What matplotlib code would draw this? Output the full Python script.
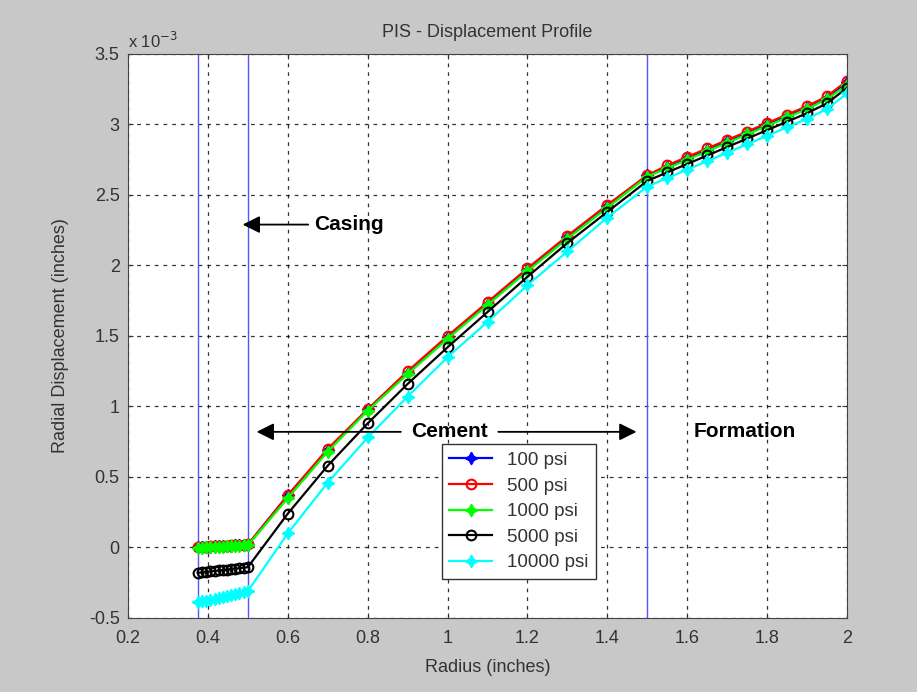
import matplotlib
matplotlib.use('Agg')
import matplotlib.pyplot as plt
import numpy as np

plt.rcParams['font.family'] = ['Liberation Sans', 'DejaVu Sans']

# raio (polegadas): revestimento, cimento e formacao
r_casing = [0.375, 0.385, 0.396, 0.406, 0.417, 0.427, 0.438, 0.448, 0.458, 0.469, 0.479, 0.490, 0.500]
r_cement = [0.6, 0.7, 0.8, 0.9, 1.0, 1.1, 1.2, 1.3, 1.4, 1.5]
r_formation = [1.55, 1.6, 1.65, 1.7, 1.75, 1.8, 1.85, 1.9, 1.95, 2.0]

# deslocamento radial (x 1e-3 polegadas)
d100 = ([0.000, 0.002, 0.004, 0.005, 0.007, 0.008, 0.010, 0.011, 0.013, 0.014, 0.016, 0.017, 0.019]
        + [0.37, 0.69, 0.98, 1.24, 1.49, 1.73, 1.97, 2.20, 2.42, 2.64]
        + [2.70, 2.76, 2.82, 2.88, 2.94, 3.00, 3.06, 3.12, 3.19, 3.30])
d500 = ([0.003, 0.004, 0.006, 0.007, 0.009, 0.010, 0.012, 0.013, 0.015, 0.016, 0.018, 0.019, 0.021]
        + [0.37, 0.70, 0.98, 1.25, 1.50, 1.74, 1.98, 2.21, 2.43, 2.64]
        + [2.71, 2.77, 2.83, 2.89, 2.95, 3.01, 3.07, 3.13, 3.20, 3.31])
d1000 = ([-0.003, -0.001, 0.000, 0.002, 0.003, 0.005, 0.006, 0.008, 0.009, 0.011, 0.012, 0.014, 0.015]
         + [0.35, 0.68, 0.97, 1.23, 1.48, 1.72, 1.96, 2.19, 2.41, 2.63]
         + [2.69, 2.75, 2.81, 2.87, 2.93, 2.99, 3.05, 3.11, 3.18, 3.28])
d5000 = ([-0.18, -0.177, -0.173, -0.170, -0.167, -0.163, -0.160, -0.157, -0.153, -0.150, -0.147, -0.143, -0.140]
         + [0.24, 0.58, 0.88, 1.16, 1.42, 1.67, 1.92, 2.16, 2.38, 2.60]
         + [2.66, 2.72, 2.78, 2.84, 2.90, 2.96, 3.02, 3.08, 3.15, 3.26])
d10000 = ([-0.39, -0.383, -0.377, -0.370, -0.363, -0.357, -0.350, -0.343, -0.337, -0.330, -0.323, -0.317, -0.310]
          + [0.10, 0.46, 0.78, 1.07, 1.35, 1.60, 1.86, 2.10, 2.34, 2.56]
          + [2.62, 2.68, 2.74, 2.80, 2.86, 2.92, 2.98, 3.04, 3.11, 3.22])

r = np.array(r_casing + r_cement + r_formation)

fig = plt.figure(figsize=(9.17, 6.92), dpi=100, facecolor='#c8c8c8')
ax = fig.add_axes([0.1396, 0.107, 0.7841, 0.815])

star = (4, 1, 0)
ax.plot(r, d100, '-', color='blue', marker=star, ms=9, lw=1.6, label='100 psi')
ax.plot(r, d500, '-', color='red', marker='o', ms=7, mfc='none', mew=1.5, lw=1.6, label='500 psi')
ax.plot(r, d1000, '-', color='#00ff00', marker=star, ms=9, lw=1.6, label='1000 psi')
ax.plot(r, d5000, '-', color='black', marker='o', ms=7, mfc='none', mew=1.5, lw=1.6, label='5000 psi')
ax.plot(r, d10000, '-', color='cyan', marker=star, ms=9, lw=1.6, label='10000 psi')

# fronteiras revestimento/cimento/formacao
for xb in [0.375, 0.5, 1.5]:
    ax.axvline(xb, color='#5555ff', lw=1.0, zorder=1)

ax.set_xlim(0.2, 2.0)
ax.set_ylim(-0.5, 3.5)
ax.set_xticks(np.arange(0.2, 2.01, 0.2))
ax.set_xticklabels(['0.2', '0.4', '0.6', '0.8', '1', '1.2', '1.4', '1.6', '1.8', '2'])
ax.set_yticks(np.arange(-0.5, 3.51, 0.5))
ax.set_yticklabels(['-0.5', '0', '0.5', '1', '1.5', '2', '2.5', '3', '3.5'])
ax.grid(True, color='black', linestyle=(0, (3, 4)), lw=0.9, alpha=0.8)
ax.set_axisbelow(True)
ax.tick_params(direction='in', top=True, right=True, labelsize=13, colors='#333333')
ax.tick_params(axis='x', pad=9)
ax.tick_params(axis='y', pad=6)
for s in ax.spines.values():
    s.set_color('#444444')

ax.set_title('PIS - Displacement Profile', fontsize=13, color='#333333', pad=12)
ax.set_xlabel('Radius (inches)', fontsize=13, color='#333333', labelpad=8)
ax.set_ylabel('Radial Displacement (inches)', fontsize=13, color='#333333', labelpad=14)
ax.text(0.0, 1.005, 'x 10$^{-3}$', transform=ax.transAxes, fontsize=12, color='#333333',
        ha='left', va='bottom')

bold = dict(fontsize=15, fontweight='bold')
arrow = dict(arrowstyle='-|>', color='black', lw=1.3, mutation_scale=26)
ax.annotate('Casing', xy=(0.48, 2.29), xytext=(0.665, 2.29), va='center', ha='left',
            arrowprops=arrow, **bold)
ax.text(1.005, 0.82, 'Cement', ha='center', va='center', **bold)
ax.annotate('', xy=(0.515, 0.82), xytext=(0.89, 0.82), arrowprops=arrow)
ax.annotate('', xy=(1.48, 0.82), xytext=(1.12, 0.82), arrowprops=arrow)
ax.text(1.615, 0.82, 'Formation', ha='left', va='center', **bold)

leg = ax.legend(loc='lower left', bbox_to_anchor=(0.423, 0.053), fontsize=13.5, fancybox=False,
                framealpha=1, edgecolor='#333333', borderpad=0.4, labelspacing=0.45,
                handlelength=2.3, handletextpad=0.8)
for t in leg.get_texts():
    t.set_color('#333333')

fig.savefig('out.png', dpi=100, facecolor=fig.get_facecolor())
